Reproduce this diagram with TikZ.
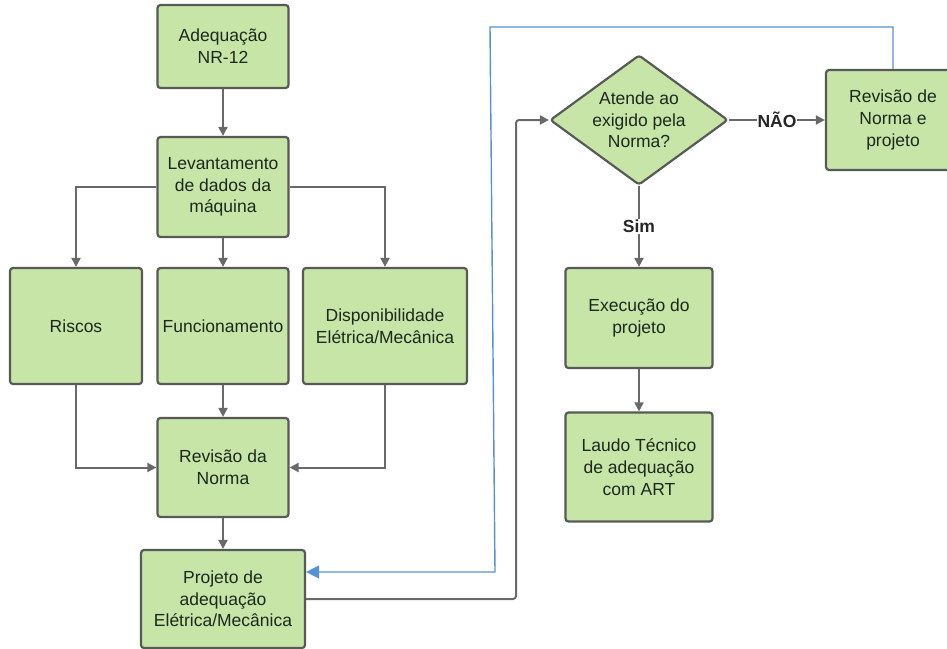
\documentclass[tikz,border=0pt]{standalone}
\usepackage{fontspec}
\setmainfont{Liberation Sans}
\usetikzlibrary{shapes.geometric, arrows.meta}

\definecolor{boxgreen}{RGB}{198,229,166}
\definecolor{boxline}{RGB}{88,90,88}
\definecolor{linkgray}{RGB}{105,105,105}
\definecolor{textdark}{RGB}{30,40,30}
\definecolor{feedblue}{RGB}{84,146,212}

\begin{document}
\begin{tikzpicture}[x=1pt, y=-1pt,
    box/.style={draw=boxline, fill=boxgreen, line width=2.2pt, rounded corners=3pt,
                inner sep=0pt, align=center, text=textdark,
                font=\fontsize{17.5}{21.7}\selectfont},
    decision/.style={box, diamond, aspect=1.4, minimum width=178pt, minimum height=130pt},
    arrow/.style={-{Triangle[length=9pt, width=9pt]}, draw=linkgray, line width=2pt},
    feedback/.style={-{Triangle[length=13pt, width=13pt]}, draw=feedblue, line width=1.4pt},
    answer/.style={font=\fontsize{17.5}{21}\selectfont\bfseries, text=black!85, fill=white, inner sep=1pt}
]
\clip (0,0) rectangle (947,648);

% --- Levantamento (left) ---
\node[box, minimum width=131pt, minimum height=83pt] (adeq) at (223,46.5) {Adequação\\NR-12};
\node[box, minimum width=131pt, minimum height=100pt] (lev) at (223,187) {Levantamento\\de dados da\\máquina};

\node[box, minimum width=132pt, minimum height=116pt] (riscos) at (76,326) {Riscos};
\node[box, minimum width=131pt, minimum height=116pt] (func) at (223,326) {Funcionamento};
\node[box, minimum width=164pt, minimum height=116pt] (disp) at (385,326) {Disponibilidade\\Elétrica/Mecânica};

\node[box, minimum width=131pt, minimum height=99pt] (rev) at (223,467.5) {Revisão da\\Norma};
\node[box, minimum width=164pt, minimum height=98pt] (proj) at (223,599) {Projeto de\\adequação\\Elétrica/Mecânica};

\draw[arrow] (adeq) -- (lev);
\draw[arrow] (lev.west) -| (riscos.north);
\draw[arrow] (lev) -- (func);
\draw[arrow] (lev.east) -| (disp.north);
\draw[arrow] (riscos.south) |- (rev.west);
\draw[arrow] (func) -- (rev);
\draw[arrow] (disp.south) |- (rev.east);
\draw[arrow] (rev) -- (proj);

% --- Verificacao (right) ---
\node[decision] (atende) at (639,120) {Atende ao\\exigido pela\\Norma?};
\node[box, minimum width=134pt, minimum height=100pt] (revproj) at (893,120) {Revisão de\\Norma e\\projeto};
\node[box, minimum width=147pt, minimum height=100pt] (exec) at (639,318) {Execução do\\projeto};
\node[box, minimum width=147pt, minimum height=109pt] (laudo) at (639,467) {Laudo Técnico\\de adequação\\com ART};

\coordinate (turn) at (516,120);
\draw[arrow, rounded corners=3pt] (proj.east) -| (turn) -- (atende.west);
\draw[arrow] (atende.east) -- node[answer] {NÃO} (revproj.west);
\draw[arrow] (atende.south) -- node[answer] {Sim} (exec.north);
\draw[arrow] (exec) -- (laudo);

% --- retorno ---
\coordinate (backtop) at (490,27);
\coordinate (backbot) at (495,572);
\draw[feedback] (revproj.north) |- (backtop) -- (backbot) -- (proj.east |- backbot);

\end{tikzpicture}
\end{document}
